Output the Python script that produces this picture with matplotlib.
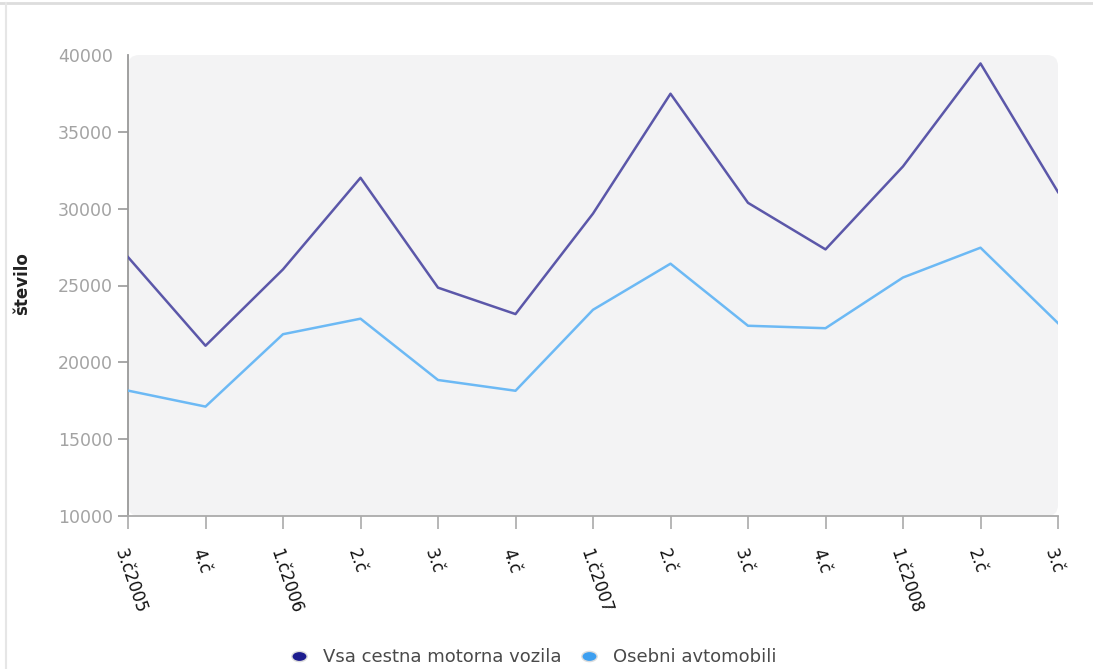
### Quarterly registrations of road motor vehicles, line chart
# Two series: all road motor vehicles and passenger cars.

import matplotlib.pyplot as plt
from matplotlib.lines import Line2D
from matplotlib.patches import FancyBboxPatch
from matplotlib.path import Path
from matplotlib.transforms import Affine2D

quarters = ["3.č2005", "4.č", "1.č2006", "2.č", "3.č", "4.č", "1.č2007",
            "2.č", "3.č", "4.č", "1.č2008", "2.č", "3.č"]
vsa_vozila = [26850, 21080, 26050, 32010, 24860, 23140, 29680,
              37480, 30380, 27350, 32750, 39450, 31080]
osebni = [18160, 17120, 21830, 22840, 18850, 18150, 23420,
          26420, 22380, 22220, 25520, 27460, 22550]

series_names = ["Vsa cestna motorna vozila", "Osebni avtomobili"]
line_colors = ["#5b57a9", "#6cb9f4"]
legend_colors = ["#1c1c8e", "#3d9ff0"]

plt.rcParams['font.family'] = ['DejaVu Sans']

fig = plt.figure(figsize=(10.93, 6.69), dpi=100)
ax = fig.add_axes([128 / 1093, 1 - 516 / 669, 930 / 1093, 461 / 669])

ax.set_facecolor("none")
bg = FancyBboxPatch((0, 0), 1, 1, boxstyle="round,pad=0,rounding_size=0.012",
                    transform=ax.transAxes, facecolor="#f3f3f4",
                    edgecolor="none", zorder=0, mutation_aspect=2.0)
ax.add_patch(bg)

x = list(range(len(quarters)))
ax.plot(x, vsa_vozila, color=line_colors[0], lw=1.8, zorder=3)
ax.plot(x, osebni, color=line_colors[1], lw=1.8, zorder=3)

ax.set_xlim(0, len(quarters) - 1)
ax.set_ylim(10000, 40000)
ax.set_yticks(range(10000, 40001, 5000))
ax.set_xticks(x)
ax.set_xticklabels(quarters, rotation=-71, ha="left", va="top",
                   rotation_mode="anchor", fontsize=12, color="#111111")

ax.tick_params(axis="y", colors="#999999", labelsize=12.5, length=7,
               width=1.2, pad=4)
ax.tick_params(axis="y", labelcolor="#a3a3a3")
ax.tick_params(axis="x", length=9, width=1.2, color="#aaaaaa", pad=13)
ax.yaxis.get_major_ticks()[-1].tick1line.set_visible(False)

for s in ["top", "right"]:
    ax.spines[s].set_visible(False)
ax.spines["left"].set_color("#999999")
ax.spines["left"].set_linewidth(1.3)
ax.spines["bottom"].set_color("#aaaaaa")
ax.spines["bottom"].set_linewidth(1.3)

ax.set_ylabel("število", fontsize=12, color="#222222", fontweight="bold")
ax.yaxis.set_label_coords((31 - 128) / 930, 0.505)

# legend markers are small horizontal ellipses
ellipse = Path.unit_circle().transformed(Affine2D().scale(1.5, 1.0))
handles = [Line2D([], [], ls="none", marker=ellipse, markersize=11,
                  markerfacecolor=c, markeredgecolor="#dddddd")
           for c in legend_colors]
fig.legend(handles, series_names, loc="center", bbox_to_anchor=(529 / 1093, 1 - 657 / 669),
           ncol=2, frameon=False, fontsize=13, handletextpad=0.35,
           columnspacing=0.5, labelcolor="#4a4a4a")

# faint frame lines at top and left of the original screenshot
fig.add_artist(Line2D([0, 1], [1 - 3 / 669, 1 - 3 / 669], color="#dddddd", lw=2))
fig.add_artist(Line2D([6 / 1093, 6 / 1093], [0, 1 - 3 / 669], color="#e6e6e6", lw=1.5))

fig.savefig("out.png", dpi=100)
